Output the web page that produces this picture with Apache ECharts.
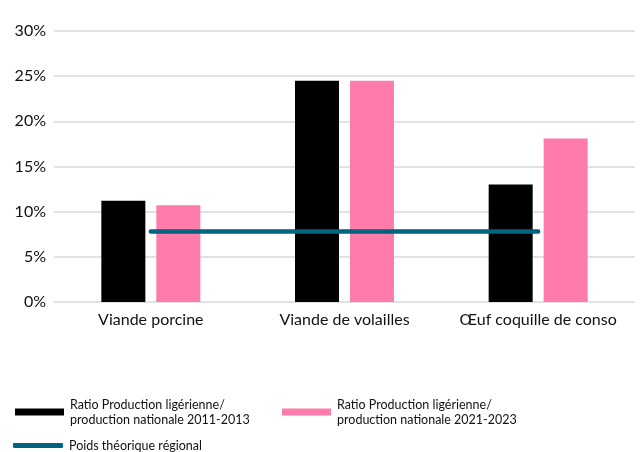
<!DOCTYPE html>
<html><head><meta charset="utf-8">
<script src="https://cdn.jsdelivr.net/npm/echarts@6/dist/echarts.min.js"></script>
<style>html,body{margin:0;padding:0;background:#fff}#c{width:640px;height:452px}</style>
</head><body><div id="c"></div>
<script>
const categories = ["Viande porcine", "Viande de volailles", "Œuf coquille de conso"];
const ratio2011 = [11.2, 24.5, 13.0];
const ratio2021 = [10.7, 24.5, 18.1];
const poidsRegional = [7.8, 7.8, 7.8];
const yTicks = [0, 5, 10, 15, 20, 25, 30];
const names = ["Ratio Production ligérienne/\nproduction nationale 2011-2013",
               "Ratio Production ligérienne/\nproduction nationale 2021-2023",
               "Poids théorique régional"];
const FONT = "Lato";
const chart = echarts.init(document.getElementById('c'), null, {renderer: 'canvas'});
const legendText = {fontFamily: FONT, fontSize: 12.5, color: '#111', lineHeight: 15, padding: [0, 0, 0, 1]};
chart.setOption({
  animation: false,
  grid: {left: 54, right: 5, top: 31, bottom: 150},
  xAxis: {
    type: 'category', data: categories,
    axisLine: {show: false}, axisTick: {show: false},
    axisLabel: {interval: 0, hideOverlap: false, fontFamily: FONT, fontSize: 16, color: '#111', margin: 10}
  },
  yAxis: {
    type: 'value', min: yTicks[0], max: yTicks[yTicks.length-1], interval: 5,
    axisLabel: {formatter: '{value}%', fontFamily: FONT, fontSize: 16, color: '#111', margin: 8},
    splitLine: {lineStyle: {color: '#d9d9d9', width: 1.5}},
    axisLine: {show: false}, axisTick: {show: false}
  },
  legend: [
    {data: [names[0]], left: 15, top: 397, padding: 0, itemWidth: 49, itemHeight: 7, itemGap: 0, icon: 'rect', textStyle: legendText, selectedMode: false},
    {data: [names[1]], left: 282, top: 397, padding: 0, itemWidth: 49, itemHeight: 7, itemGap: 0, icon: 'rect', textStyle: legendText, selectedMode: false},
    {data: [names[2]], left: 13, top: 438, padding: 0, itemWidth: 50, itemHeight: 5, itemGap: 0, icon: 'roundRect', textStyle: legendText, selectedMode: false}
  ],
  series: [
    {name: names[0], type: 'bar', data: ratio2011, barWidth: 44, barGap: '25%', itemStyle: {color: '#000000'}},
    {name: names[1], type: 'bar', data: ratio2021, barWidth: 44, itemStyle: {color: '#FF7BAC'}},
    {name: names[2], type: 'line', data: poidsRegional, symbol: 'none',
     lineStyle: {color: '#00637F', width: 4.5, cap: 'round'}, itemStyle: {color: '#00637F'}, z: 5}
  ]
});
</script></body></html>
